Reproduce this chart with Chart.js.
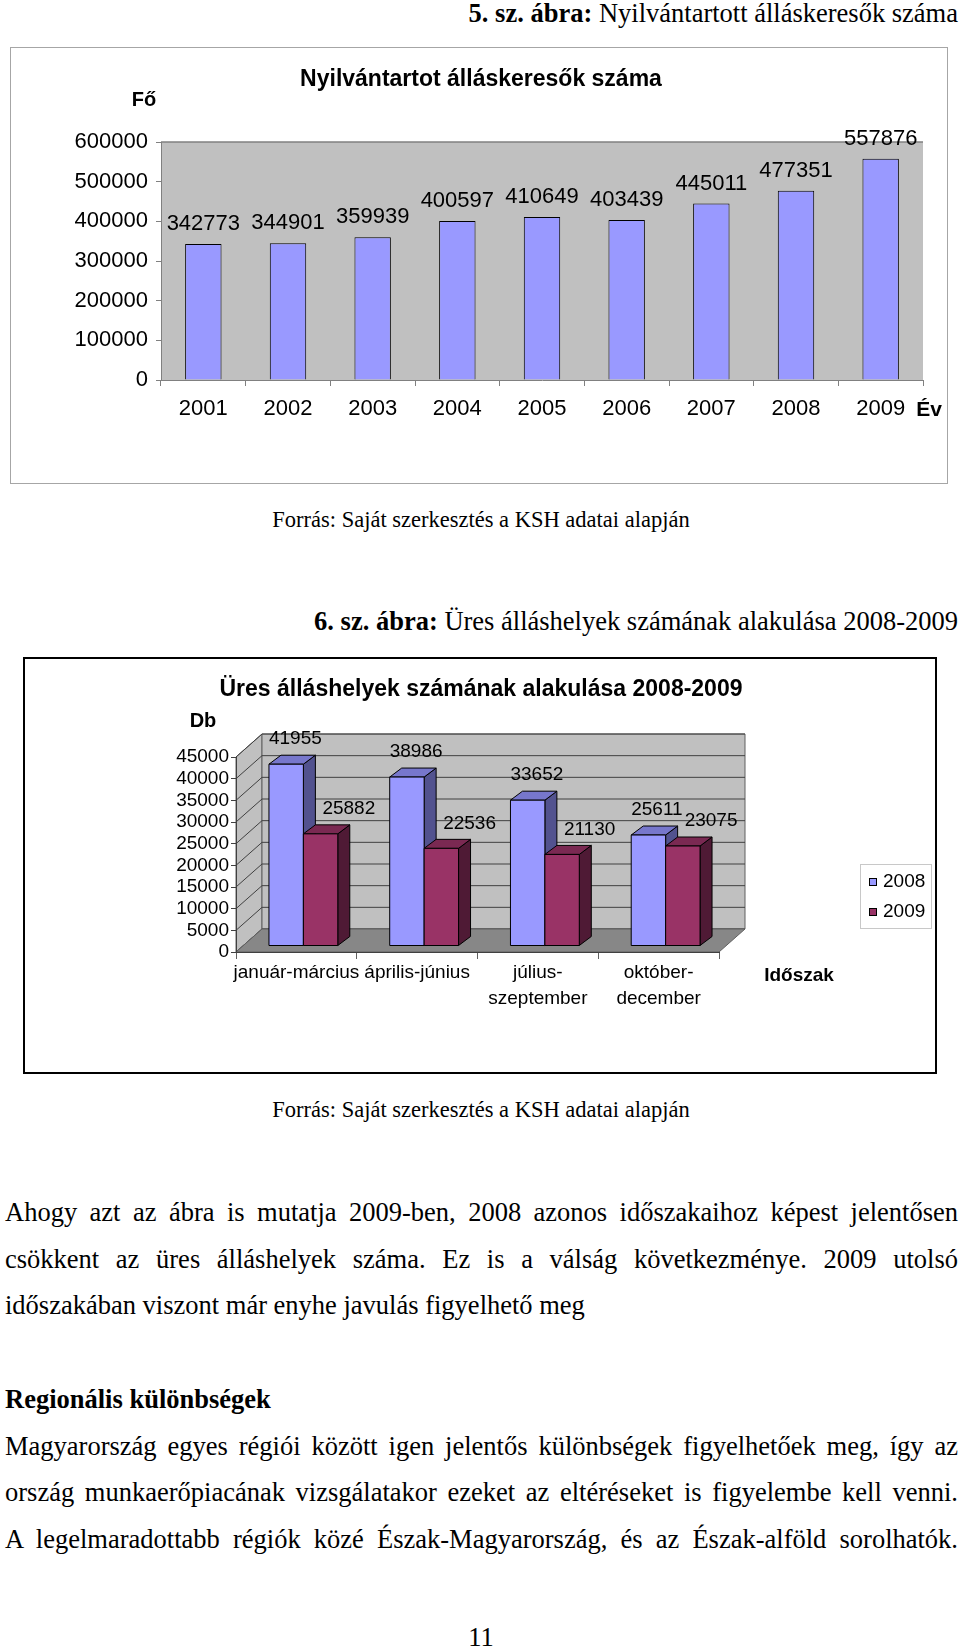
<!DOCTYPE html>
<html lang="hu">
<head>
<meta charset="utf-8">
<title>Álláskeresők és üres álláshelyek</title>
<script src="https://cdn.jsdelivr.net/npm/chart.js@4.4.1/dist/chart.umd.min.js"></script>
<style>
  body { margin: 0; background: #fff; }
  #page { position: relative; width: 960px; height: 1648px; overflow: hidden; color: #000;
          font-family: "Times New Roman", "Liberation Serif", serif; }
  .t { position: absolute; font-size: 26.5px; line-height: 30px; white-space: nowrap; }
  .src { left: 0; width: 962px; text-align: center; font-size: 22.5px; line-height: 28px; }
  .j { left: 5px; width: 953px; text-align: justify; text-align-last: justify; white-space: normal; }
  .box { position: absolute; box-sizing: border-box; }
  #box1 { left: 10px; top: 47px; width: 938px; height: 437px; border: 1px solid #a6a6a6; }
  #box2 { left: 23px; top: 657px; width: 914px; height: 417px; border: 2px solid #000; }
  canvas { position: absolute; left: 0; top: 0; }
</style>
</head>
<body>
<div id="page">
  <div class="t" style="top:-2px; right:2px;"><b>5. sz. ábra:</b> Nyilvántartott álláskeresők száma</div>
  <div class="box" id="box1"><canvas id="seekersChart" width="936" height="435"></canvas></div>
  <div class="t src" style="top:506px;">Forrás: Saját szerkesztés a KSH adatai alapján</div>

  <div class="t" style="top:606px; right:2px;"><b>6. sz. ábra:</b> Üres álláshelyek számának alakulása 2008-2009</div>
  <div class="box" id="box2"><canvas id="vacancyChart" width="910" height="413"></canvas></div>
  <div class="t src" style="top:1096px;">Forrás: Saját szerkesztés a KSH adatai alapján</div>

  <div class="t j" style="top:1197px;">Ahogy azt az ábra is mutatja 2009-ben, 2008 azonos időszakaihoz képest jelentősen</div>
  <div class="t j" style="top:1244px;">csökkent az üres álláshelyek száma. Ez is a válság következménye. 2009 utolsó</div>
  <div class="t" style="top:1290px; left:5px;">időszakában viszont már enyhe javulás figyelhető meg</div>

  <div class="t" style="top:1384px; left:5px;"><b>Regionális különbségek</b></div>
  <div class="t j" style="top:1431px;">Magyarország egyes régiói között igen jelentős különbségek figyelhetőek meg, így az</div>
  <div class="t j" style="top:1477px;">ország munkaerőpiacának vizsgálatakor ezeket az eltéréseket is figyelembe kell venni.</div>
  <div class="t j" style="top:1524px;">A legelmaradottabb régiók közé Észak-Magyarország, és az Észak-alföld sorolhatók.</div>

  <div class="t src" style="top:1622px; font-size:26.5px; line-height:30px;">11</div>
</div>

<script>
// 5. ábra - registered job seekers
const years = ['2001', '2002', '2003', '2004', '2005', '2006', '2007', '2008', '2009'];
const jobSeekers = [342773, 344901, 359939, 400597, 410649, 403439, 445011, 477351, 557876];
const seekerTicks = [0, 100000, 200000, 300000, 400000, 500000, 600000];

// 6. ábra - vacancies by quarter
const periods = [['január-március'], ['április-június'], ['július-', 'szeptember'], ['október-', 'december']];
const seriesNames = ['2008', '2009'];
const vacancies2008 = [41955, 38986, 33652, 25611];
const vacancies2009 = [25882, 22536, 21130, 23075];
const vacancyTicks = [0, 5000, 10000, 15000, 20000, 25000, 30000, 35000, 40000, 45000];

const SANS = 'Arial, "Liberation Sans", sans-serif';
Chart.defaults.font.family = SANS;
Chart.defaults.color = '#000';

const plain = v => String(v);   // no thousands separator, like the original

function text(ctx, str, x, y, font, align) {
    ctx.save();
    ctx.font = font;
    ctx.fillStyle = '#000';
    ctx.textAlign = align || 'center';
    ctx.textBaseline = 'middle';
    ctx.fillText(str, x, y);
    ctx.restore();
}

// grey plot area + labels for the first chart
const seekerDecor = {
    id: 'seekerDecor',
    beforeDraw(chart) {
        const { ctx, chartArea: a } = chart;
        ctx.save();
        ctx.fillStyle = '#c0c0c0';
        ctx.fillRect(a.left, a.top, a.right - a.left, a.bottom - a.top);
        ctx.strokeStyle = '#808080';
        ctx.lineWidth = 1.5;
        ctx.beginPath();
        ctx.moveTo(a.left, a.top);
        ctx.lineTo(a.right, a.top);
        ctx.stroke();
        ctx.restore();
    },
    afterDatasetsDraw(chart) {
        const meta = chart.getDatasetMeta(0);
        meta.data.forEach((bar, i) => {
            text(chart.ctx, plain(chart.data.datasets[0].data[i]), bar.x, bar.y - 20, '22px ' + SANS);
        });
    },
    afterDraw(chart) {
        const ctx = chart.ctx;
        text(ctx, 'Nyilvántartot álláskeresők száma', 470, 32, 'bold 23px ' + SANS);
        text(ctx, 'Fő', 133, 52, 'bold 20px ' + SANS);
        text(ctx, 'Év', 918, 362, 'bold 21px ' + SANS);
    }
};

new Chart(document.getElementById('seekersChart'), {
    type: 'bar',
    data: {
        labels: years,
        datasets: [{
            label: 'Fő',
            data: jobSeekers,
            backgroundColor: '#9999ff',
            borderColor: '#000',
            borderWidth: 1,
            categoryPercentage: 1,
            barPercentage: 0.43
        }]
    },
    options: {
        responsive: false,
        animation: false,
        devicePixelRatio: 1,
        layout: { padding: { top: 94, right: 24, left: 0, bottom: 0 } },
        plugins: { legend: { display: false }, tooltip: { enabled: false } },
        scales: {
            x: {
                grid: { drawOnChartArea: false, tickLength: 6, color: '#808080' },
                border: { color: '#808080' },
                ticks: { font: { size: 22 }, padding: 10, maxRotation: 0, autoSkip: false },
                afterFit(scale) { scale.height = 103; }
            },
            y: {
                min: seekerTicks[0],
                max: seekerTicks[seekerTicks.length - 1],
                grid: { drawOnChartArea: false, tickLength: 5, color: '#808080' },
                border: { color: '#808080' },
                ticks: { stepSize: seekerTicks[1] - seekerTicks[0], font: { size: 22 }, padding: 8,
                         autoSkip: false, callback: plain },
                afterFit(scale) { scale.width = 150; }
            }
        }
    },
    plugins: [seekerDecor]
});

// 3D look for the second chart
const wallDepth = { dx: 26, dy: -23 };
const barShift = { dx: 7, dy: -6 };
const barDepth = { dx: 12, dy: -9 };
const faceColors = ['#9999ff', '#993366'];
const topColors = ['#7777cc', '#7a2952'];
const sideColors = ['#52528f', '#4f1a35'];

function poly(ctx, pts, fill, stroke) {
    ctx.beginPath();
    ctx.moveTo(pts[0][0], pts[0][1]);
    for (let i = 1; i < pts.length; i++) ctx.lineTo(pts[i][0], pts[i][1]);
    ctx.closePath();
    if (fill) { ctx.fillStyle = fill; ctx.fill(); }
    if (stroke) { ctx.strokeStyle = stroke; ctx.stroke(); }
}

const box3d = {
    id: 'box3d',
    beforeDraw(chart) {
        const { ctx, chartArea: a, scales: { y } } = chart;
        const { dx, dy } = wallDepth;
        const L = a.left, R = a.right, T = a.top, B = a.bottom;
        ctx.save();
        ctx.lineWidth = 1;
        poly(ctx, [[L, T], [L + dx, T + dy], [L + dx, B + dy], [L, B]], '#c0c0c0', '#606060');
        poly(ctx, [[L + dx, T + dy], [R + dx, T + dy], [R + dx, B + dy], [L + dx, B + dy]], '#c0c0c0', '#606060');
        ctx.strokeStyle = '#404040';
        y.ticks.forEach(t => {
            const py = y.getPixelForValue(t.value);
            ctx.beginPath();
            ctx.moveTo(L, py);
            ctx.lineTo(L + dx, py + dy);
            ctx.lineTo(R + dx, py + dy);
            ctx.stroke();
        });
        poly(ctx, [[L, B], [R, B], [R + dx, B + dy], [L + dx, B + dy]], '#878787', '#606060');
        ctx.restore();
    },
    beforeDatasetDraw() {
        return false;
    },
    afterDatasetsDraw(chart) {
        const ctx = chart.ctx;
        const metas = chart.data.datasets.map((d, k) => chart.getDatasetMeta(k));
        ctx.save();
        ctx.lineWidth = 1;
        ctx.lineJoin = 'round';
        for (let i = 0; i < chart.data.labels.length; i++) {
            metas.forEach((meta, k) => {
                const bar = meta.data[i];
                const x0 = bar.x - bar.width / 2 + barShift.dx;
                const x1 = bar.x + bar.width / 2 + barShift.dx;
                const yt = bar.y + barShift.dy;
                const yb = bar.base + barShift.dy;
                const ddx = barDepth.dx, ddy = barDepth.dy;
                poly(ctx, [[x1, yt], [x1 + ddx, yt + ddy], [x1 + ddx, yb + ddy], [x1, yb]], sideColors[k], '#000');
                poly(ctx, [[x0, yt], [x0 + ddx, yt + ddy], [x1 + ddx, yt + ddy], [x1, yt]], topColors[k], '#000');
                poly(ctx, [[x0, yt], [x1, yt], [x1, yb], [x0, yb]], faceColors[k], '#000');
            });
        }
        ctx.restore();
        metas.forEach((meta, k) => {
            meta.data.forEach((bar, i) => {
                const x0 = bar.x - bar.width / 2 + barShift.dx;
                const yt = bar.y + barShift.dy;
                text(ctx, plain(chart.data.datasets[k].data[i]), x0 + (k ? 19 : 0), yt - 25, '19px ' + SANS, 'left');
            });
        });
    },
    afterDraw(chart) {
        const ctx = chart.ctx;
        text(ctx, 'Üres álláshelyek számának alakulása 2008-2009', 456, 31, 'bold 23px ' + SANS);
        text(ctx, 'Db', 178, 62, 'bold 20px ' + SANS);
        text(ctx, 'Időszak', 774, 317, 'bold 19px ' + SANS);
        // legend
        ctx.save();
        ctx.strokeStyle = '#c8c8c8';
        ctx.lineWidth = 1;
        ctx.strokeRect(835.5, 205.5, 71, 64);
        chart.data.datasets.forEach((ds, k) => {
            const cy = 223 + k * 30;
            ctx.fillStyle = ds.backgroundColor;
            ctx.fillRect(844, cy - 4, 8, 8);
            ctx.strokeStyle = '#000';
            ctx.strokeRect(844.5, cy - 3.5, 7, 7);
            text(ctx, ds.label, 858, cy, '19px ' + SANS, 'left');
        });
        ctx.restore();
    }
};

new Chart(document.getElementById('vacancyChart'), {
    type: 'bar',
    data: {
        labels: periods,
        datasets: [
            { label: seriesNames[0], data: vacancies2008, backgroundColor: faceColors[0] },
            { label: seriesNames[1], data: vacancies2009, backgroundColor: faceColors[1] }
        ]
    },
    options: {
        responsive: false,
        animation: false,
        devicePixelRatio: 1,
        categoryPercentage: 0.57,
        barPercentage: 1,
        layout: { padding: { top: 98, right: 216, left: 0, bottom: 0 } },
        plugins: { legend: { display: false }, tooltip: { enabled: false } },
        scales: {
            x: {
                grid: { drawOnChartArea: false, tickLength: 7, color: '#606060' },
                border: { color: '#404040' },
                ticks: { font: { size: 19, lineHeight: 1.37 }, padding: 1, maxRotation: 0, minRotation: 0, autoSkip: false },
                afterFit(scale) { scale.height = 120; }
            },
            y: {
                min: vacancyTicks[0],
                max: vacancyTicks[vacancyTicks.length - 1],
                grid: { drawOnChartArea: false, tickLength: 5, color: '#404040' },
                border: { color: '#404040' },
                ticks: { stepSize: vacancyTicks[1] - vacancyTicks[0], font: { size: 19 }, padding: 2,
                         autoSkip: false, callback: plain },
                afterFit(scale) { scale.width = 211; }
            }
        }
    },
    plugins: [box3d]
});
</script>
</body>
</html>
